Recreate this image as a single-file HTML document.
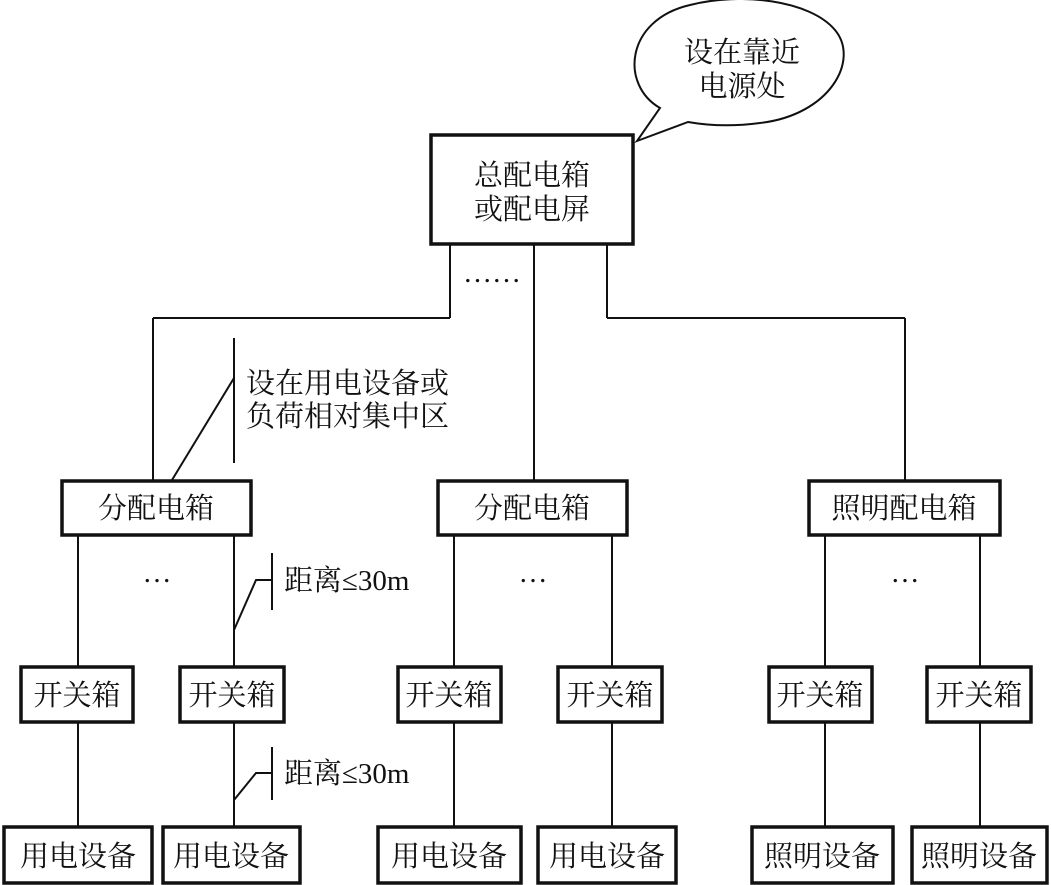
<!DOCTYPE html>
<html><head><meta charset="utf-8"><style>
html,body{margin:0;padding:0;background:#fff;}
svg{display:block;}
text{font-family:"Liberation Serif","Noto Serif CJK SC",serif;font-size:29px;fill:#111;}
</style></head><body>
<svg width="1051" height="885" viewBox="0 0 1051 885" xmlns="http://www.w3.org/2000/svg">
<g fill="none" stroke="#111" stroke-width="2">
<!-- balloon -->
<path d="M660,108 C620,85 625,20 690,5 C740,-8 810,0 835,30 C860,60 830,115 760,123 C730,127 705,125 688,122 L637,141 Z" fill="#fff"/>
<!-- top connections -->
<line x1="450" y1="244" x2="450" y2="318"/>
<line x1="153" y1="318" x2="450" y2="318"/>
<line x1="153" y1="318" x2="153" y2="480"/>
<line x1="534" y1="244" x2="534" y2="480"/>
<line x1="607" y1="244" x2="607" y2="318"/>
<line x1="607" y1="318" x2="905" y2="318"/>
<line x1="905" y1="318" x2="905" y2="480"/>
<!-- annotation 1 -->
<line x1="234" y1="338" x2="234" y2="463"/>
<line x1="234" y1="378" x2="172" y2="480"/>
<!-- level 2 to 3 -->
<line x1="78" y1="535" x2="78" y2="666"/>
<line x1="234" y1="535" x2="234" y2="666"/>
<line x1="454" y1="535" x2="454" y2="666"/>
<line x1="612" y1="535" x2="612" y2="666"/>
<line x1="825" y1="535" x2="825" y2="666"/>
<line x1="980" y1="535" x2="980" y2="666"/>
<!-- level 3 to 4 -->
<line x1="78" y1="722" x2="78" y2="826"/>
<line x1="234" y1="722" x2="234" y2="826"/>
<line x1="454" y1="722" x2="454" y2="826"/>
<line x1="612" y1="722" x2="612" y2="826"/>
<line x1="825" y1="722" x2="825" y2="826"/>
<line x1="980" y1="722" x2="980" y2="826"/>
<!-- distance annotations -->
<line x1="272" y1="553" x2="272" y2="610"/>
<polyline points="272,580 256,580 234,630"/>
<line x1="272" y1="747" x2="272" y2="800"/>
<polyline points="272,773 256,773 234,800"/>
</g>
<g fill="#fff" stroke="#111" stroke-width="3.5">
<rect x="431" y="135" width="202" height="109"/>
<rect x="62" y="481" width="189" height="54"/>
<rect x="438" y="481" width="189" height="54"/>
<rect x="809" y="481" width="191" height="54"/>
<rect x="21" y="667" width="112" height="55"/>
<rect x="180" y="667" width="104" height="55"/>
<rect x="398" y="667" width="103" height="55"/>
<rect x="558" y="667" width="104" height="55"/>
<rect x="769" y="667" width="103" height="55"/>
<rect x="927" y="667" width="104" height="55"/>
<rect x="4" y="827" width="148" height="56"/>
<rect x="163" y="827" width="137" height="56"/>
<rect x="378" y="827" width="143" height="56"/>
<rect x="538" y="827" width="138" height="56"/>
<rect x="752" y="827" width="141" height="56"/>
<rect x="912" y="827" width="135" height="56"/>
</g>
<text x="742" y="62" text-anchor="middle">设在靠近</text>
<text x="742" y="96" text-anchor="middle">电源处</text>
<text x="532" y="185" text-anchor="middle">总配电箱</text>
<text x="532" y="219" text-anchor="middle">或配电屏</text>
<text x="492" y="282" text-anchor="middle">……</text>
<text x="246" y="393">设在用电设备或</text>
<text x="246" y="426">负荷相对集中区</text>
<text x="156" y="518" text-anchor="middle">分配电箱</text>
<text x="532" y="518" text-anchor="middle">分配电箱</text>
<text x="904" y="518" text-anchor="middle">照明配电箱</text>
<text x="157" y="582" text-anchor="middle">…</text>
<text x="533" y="582" text-anchor="middle">…</text>
<text x="905" y="582" text-anchor="middle">…</text>
<text x="284" y="590">距离≤30m</text>
<text x="284" y="783">距离≤30m</text>
<text x="77" y="705" text-anchor="middle">开关箱</text>
<text x="232" y="705" text-anchor="middle">开关箱</text>
<text x="449" y="705" text-anchor="middle">开关箱</text>
<text x="610" y="705" text-anchor="middle">开关箱</text>
<text x="820" y="705" text-anchor="middle">开关箱</text>
<text x="979" y="705" text-anchor="middle">开关箱</text>
<text x="78" y="866" text-anchor="middle">用电设备</text>
<text x="231" y="866" text-anchor="middle">用电设备</text>
<text x="449" y="866" text-anchor="middle">用电设备</text>
<text x="607" y="866" text-anchor="middle">用电设备</text>
<text x="822" y="866" text-anchor="middle">照明设备</text>
<text x="979" y="866" text-anchor="middle">照明设备</text>
</svg>
</body></html>
